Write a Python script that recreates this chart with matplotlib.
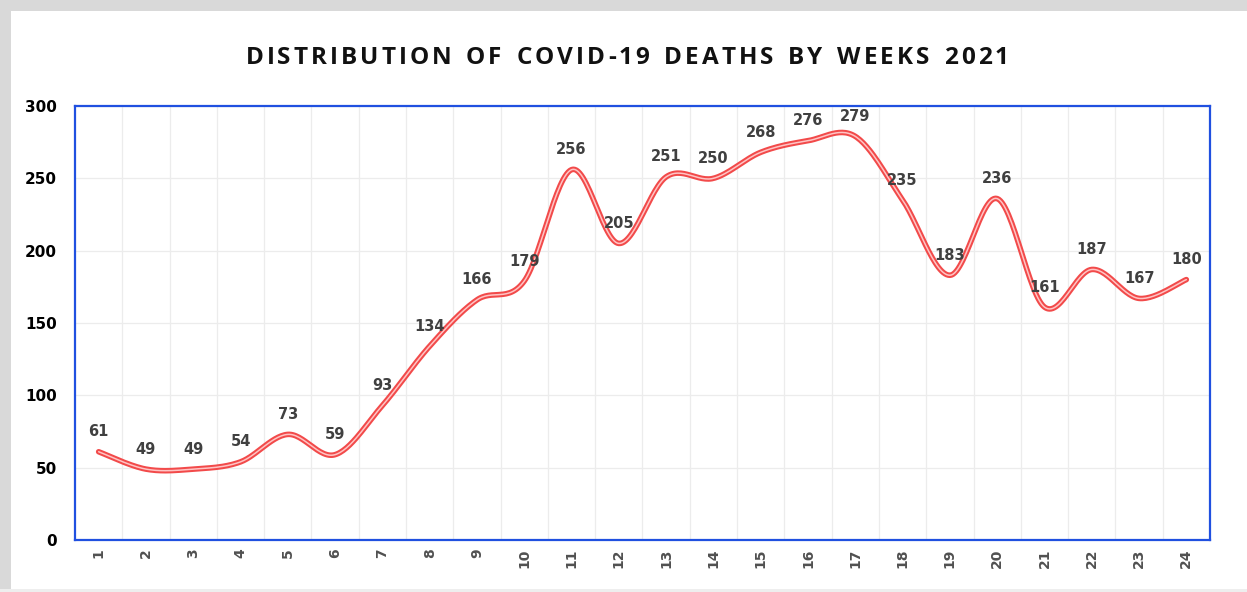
import numpy as np
import matplotlib.pyplot as plt
from matplotlib.patches import Rectangle

weeks = [str(i) for i in range(1, 25)]
deaths = [61, 49, 49, 54, 73, 59, 93, 134, 166, 179, 256, 205,
          251, 250, 268, 276, 279, 235, 183, 236, 161, 187, 167, 180]
title = "DISTRIBUTION OF COVID-19 DEATHS BY WEEKS 2021"


def smooth_curve(x, y, n=30):
    # catmull-rom style smoothing, like the spreadsheet "smoothed line"
    x = np.asarray(x, float)
    y = np.asarray(y, float)
    px = np.concatenate([[x[0]], x, [x[-1]]])
    py = np.concatenate([[y[0]], y, [y[-1]]])
    xs, ys = [], []
    t = np.linspace(0, 1, n)
    for i in range(1, len(px) - 2):
        p0x, p1x, p2x, p3x = px[i - 1:i + 3]
        p0y, p1y, p2y, p3y = py[i - 1:i + 3]
        c1x = p1x + (p2x - p0x) / 6
        c1y = p1y + (p2y - p0y) / 6
        c2x = p2x - (p3x - p1x) / 6
        c2y = p2y - (p3y - p1y) / 6
        bx = (1 - t)**3 * p1x + 3 * (1 - t)**2 * t * c1x + 3 * (1 - t) * t**2 * c2x + t**3 * p2x
        by = (1 - t)**3 * p1y + 3 * (1 - t)**2 * t * c1y + 3 * (1 - t) * t**2 * c2y + t**3 * p2y
        xs.append(bx)
        ys.append(by)
    return np.concatenate(xs), np.concatenate(ys)


def spaced_title(fig, text, xc, yc, extra_px, **kw):
    # draw the title letter by letter so it gets the wide letter spacing
    r = fig.canvas.get_renderer()
    W, H = fig.bbox.width, fig.bbox.height
    widths = []
    for ch in text:
        t = fig.text(0, 0, ch if ch != ' ' else 'I', **kw)
        w = t.get_window_extent(r).width
        if ch == ' ':
            w *= 1.1
        widths.append(w)
        t.remove()
    total = sum(widths) + extra_px * (len(text) - 1)
    pos = xc - total / 2
    for ch, w in zip(text, widths):
        if ch != ' ':
            fig.text(pos / W, yc / H, ch, ha='left', va='center', **kw)
        pos += w + extra_px


fig = plt.figure(figsize=(12.47, 5.92), dpi=100)
fig.patch.set_facecolor('white')

# grey shadow frame at top and left
fig.patches.append(Rectangle((0, 1 - 11 / 592), 1, 11 / 592, transform=fig.transFigure,
                             facecolor='#d9d9d9', edgecolor='none', zorder=0))
fig.patches.append(Rectangle((0, 0), 11 / 1247, 1, transform=fig.transFigure,
                             facecolor='#d9d9d9', edgecolor='none', zorder=0))
fig.patches.append(Rectangle((0, 0), 1, 3 / 592, transform=fig.transFigure,
                             facecolor='#eeeeee', edgecolor='none', zorder=0))

ax = fig.add_axes([75 / 1247, 1 - 540 / 592, (1210 - 75) / 1247, (540 - 106) / 592])

x = np.arange(1, len(deaths) + 1)
sx, sy = smooth_curve(x, deaths)
ax.plot(sx, sy, color='#f24a4a', lw=4.0, solid_capstyle='round', zorder=3)
ax.plot(sx, sy, color='#ffc4c4', lw=1.1, solid_capstyle='round', zorder=4)

for xi, v in zip(x, deaths):
    ax.annotate(str(v), (xi, v), xytext=(0, 9), textcoords='offset points',
                ha='center', va='bottom', fontsize=10.5, fontweight='bold',
                color='#404040', zorder=5)

ax.set_xlim(0.5, len(deaths) + 0.5)
ax.set_ylim(0, 300)
ax.set_yticks(range(0, 301, 50))
ax.set_xticks(x)
ax.set_xticklabels(weeks, rotation=90)
ax.set_xticks(np.arange(1.5, len(deaths), 1), minor=True)

ax.grid(True, which='minor', axis='x', color='#ececec', lw=0.9)
ax.grid(True, which='major', axis='y', color='#ececec', lw=0.9)
ax.set_axisbelow(True)

ax.tick_params(axis='both', which='both', length=0)
ax.tick_params(axis='y', pad=13, labelsize=11, labelcolor='black')
ax.tick_params(axis='x', pad=6, labelsize=10, labelcolor='#505050')
for lbl in ax.get_yticklabels() + ax.get_xticklabels():
    lbl.set_fontweight('bold')

for sp in ax.spines.values():
    sp.set_color('#2050e0')
    sp.set_linewidth(1.6)

spaced_title(fig, title, 627, 592 - 58, 3.0, fontsize=17.5, fontweight='bold',
             family='Open Sans', color='#111111')

fig.savefig('out.png', dpi=100, facecolor='white')
